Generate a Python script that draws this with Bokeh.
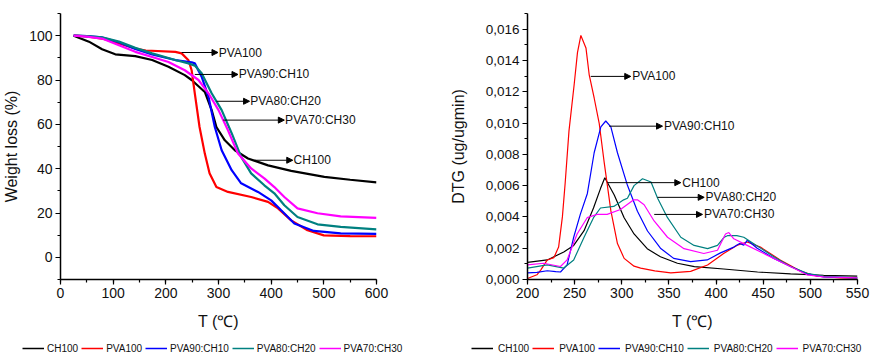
from bokeh.plotting import figure
from bokeh.layouts import row, column
from bokeh.models import (Range1d, SingleIntervalTicker, Legend, LegendItem, Arrow,
                          NormalHead, Label, CustomJSTickFormatter)
from bokeh.embed import file_html
from bokeh.resources import INLINE

FONT = "Liberation Sans"

names = ["CH100", "PVA100", "PVA90:CH10", "PVA80:CH20", "PVA70:CH30"]
colors = ["#000000", "#ff0000", "#0000ff", "#008080", "#ff00ff"]

# ---- TGA (weight loss %) ----
tga_ch100_T = [25, 54, 79, 104, 142, 174, 205, 236, 249, 274, 287, 296, 312, 331, 356, 394, 438, 501, 550, 600]
tga_ch100_W = [100, 97.3, 93.9, 91.6, 90.8, 89, 86, 82.2, 80, 74.6, 66.4, 58.8, 52.8, 48.3, 44.6, 41.5, 39, 36.3, 35, 33.8]

tga_pva100_T = [25, 50, 79, 111, 142, 162, 218, 230, 243, 249, 255, 264, 274, 283, 296, 318, 362, 394, 413, 438, 469, 500, 550, 600]
tga_pva100_W = [100, 99.7, 98.7, 96.5, 94.2, 93.3, 92.7, 92, 88.9, 84.4, 74, 58.8, 46.8, 37.9, 31.7, 29.5, 27.2, 25, 22.1, 16.7, 12.2, 9.9, 9.6, 9.5]

tga_pva90_T = [25, 50, 79, 111, 142, 174, 218, 249, 255, 268, 281, 293, 306, 325, 343, 375, 400, 419, 444, 481, 532, 600]
tga_pva90_W = [100, 99.8, 99.2, 97, 94, 91.5, 89, 88, 87.5, 81.5, 72.4, 58.8, 48.3, 39.3, 33.4, 29.5, 25.7, 21.2, 15.3, 11.9, 10.8, 10.6]

tga_pva80_T = [25, 50, 79, 111, 142, 174, 218, 243, 255, 268, 287, 306, 325, 343, 362, 387, 406, 425, 450, 488, 532, 600]
tga_pva80_W = [100, 99.8, 99.2, 97.3, 94.5, 92, 89, 87.5, 86.5, 83, 74, 66.4, 56, 45.3, 37.9, 32.5, 28.9, 23.5, 18.2, 14.9, 13.7, 12.6]

tga_pva70_T = [25, 50, 79, 111, 142, 174, 205, 236, 262, 281, 300, 318, 337, 362, 387, 406, 425, 450, 488, 532, 600]
tga_pva70_W = [100, 99.6, 98.7, 95.7, 92.7, 90.4, 88.1, 84.4, 80, 74, 66.4, 57.3, 46.8, 40.1, 35.6, 31.7, 27.2, 22.1, 19.9, 18.5, 17.8]

# ---- DTG ----
dtg_ch100_T = [200, 221, 238.5, 249, 260, 270, 277.4, 282, 292, 302.5, 313, 327, 341, 359, 377, 408, 444, 479, 514, 550]
dtg_ch100_Y = [0.0011, 0.00125, 0.00176, 0.00218, 0.00312, 0.00457, 0.00581, 0.0065, 0.0054, 0.00395, 0.00291,
               0.00197, 0.00145, 0.00104, 0.00082, 0.00067, 0.00048, 0.00036, 0.00027, 0.00021]

dtg_pva100_T = [200, 210, 214, 221, 228, 233, 237, 240, 244, 249.5, 253, 256.6, 262, 265.4, 270.7, 276, 281.3, 288.4,
                295.4, 302.5, 313, 320, 335, 352, 373, 391, 408, 422, 433, 447, 468, 490, 507, 532, 550]
dtg_pva100_Y = [0.00006, 0.0003, 0.0006, 0.00125, 0.0014, 0.00207, 0.0040, 0.0062, 0.0095, 0.01246, 0.0145, 0.0156,
                0.0148, 0.0131, 0.0116, 0.0100, 0.0075, 0.0044, 0.0023, 0.00135, 0.00085, 0.00073, 0.00055, 0.00042,
                0.00052, 0.00093, 0.00166, 0.00218, 0.0024, 0.00207, 0.00125, 0.00052, 0.00021, 0.0001, 0.00008]

dtg_pva90_T = [200, 210, 221, 230, 235, 242, 249, 256, 263.5, 270.7, 277.8, 283, 288.4, 295.4, 306, 316.6, 327.3,
               341, 355, 373, 390.6, 404.7, 418.8, 425, 429.4, 433, 436.5, 443.6, 461.3, 479, 496.6, 514.2, 550]
dtg_pva90_Y = [0.00042, 0.00045, 0.00056, 0.0005, 0.00048, 0.00093, 0.0027, 0.00416, 0.0055, 0.0081, 0.00976, 0.01013,
               0.00976, 0.0081, 0.00602, 0.00436, 0.0031, 0.002, 0.00135, 0.00114, 0.00125, 0.0017, 0.00207, 0.0023,
               0.0022, 0.0025, 0.00235, 0.002, 0.00135, 0.00083, 0.00036, 0.00017, 0.0001]

dtg_pva80_T = [200, 221, 238.5, 249, 260, 270, 277.4, 291.5, 302, 306, 313, 322, 331, 338, 348.5, 362.6, 376.7, 391,
               401.5, 408.6, 412, 422, 429.4, 440, 461.3, 479, 496.6, 514, 550]
dtg_pva80_Y = [0.00073, 0.00093, 0.00073, 0.00125, 0.0027, 0.00395, 0.00457, 0.00467, 0.00509, 0.00519, 0.006, 0.00644,
               0.00623, 0.00519, 0.00395, 0.0027, 0.00218, 0.00197, 0.00218, 0.0027, 0.0028, 0.0028, 0.0027, 0.00229,
               0.00145, 0.00083, 0.0004, 0.0002, 0.0001]

dtg_pva70_T = [200, 217, 235, 242, 252.6, 263.3, 273.9, 284.5, 298.6, 312.7, 316.6, 323.7, 334.3, 348.5, 366, 387,
               401.5, 410, 413.5, 418.8, 433, 454, 475.4, 496.6, 514, 550]
dtg_pva70_Y = [0.00093, 0.00104, 0.00083, 0.00125, 0.00291, 0.00395, 0.00416, 0.00416, 0.00447, 0.00509, 0.00509,
               0.00478, 0.00374, 0.0027, 0.00197, 0.00166, 0.00187, 0.00291, 0.003, 0.0026, 0.00218, 0.00156, 0.00093,
               0.0003, 0.00017, 0.0001]

tga_series = [(tga_ch100_T, tga_ch100_W), (tga_pva100_T, tga_pva100_W), (tga_pva90_T, tga_pva90_W),
              (tga_pva80_T, tga_pva80_W), (tga_pva70_T, tga_pva70_W)]
dtg_series = [(dtg_ch100_T, dtg_ch100_Y), (dtg_pva100_T, dtg_pva100_Y), (dtg_pva90_T, dtg_pva90_Y),
              (dtg_pva80_T, dtg_pva80_Y), (dtg_pva70_T, dtg_pva70_Y)]

# annotation arrows: (label, x_start, x_end, y)
tga_notes = [("PVA100", 230, 299, 92.4), ("PVA90:CH10", 255, 337, 82.5), ("PVA80:CH20", 296, 359, 70.4),
             ("PVA70:CH30", 309, 425, 61.9), ("CH100", 368, 441, 43.8)]
dtg_notes = [("PVA100", 267.1, 309.5, 0.01298), ("PVA90:CH10", 286.6, 343.2, 0.0098), ("CH100", 284.8, 362.6, 0.00619),
             ("PVA80:CH20", 337.9, 387.4, 0.00525), ("PVA70:CH30", 334.4, 385.6, 0.00416)]


def style_axes(p, tick_size_x, tick_size_y):
    p.outline_line_color = None
    p.xgrid.visible = False
    p.ygrid.visible = False
    for ax, ts in ((p.xaxis[0], tick_size_x), (p.yaxis[0], tick_size_y)):
        ax.axis_line_width = 1.5
        ax.axis_line_color = "black"
        ax.major_tick_line_color = "black"
        ax.minor_tick_line_color = "black"
        ax.major_tick_line_width = 1.2
        ax.minor_tick_line_width = 1.2
        ax.major_tick_in = 0
        ax.major_tick_out = 5
        ax.minor_tick_in = 0
        ax.minor_tick_out = 3
        ax.major_label_text_font = FONT
        ax.major_label_text_font_size = ts
        ax.major_label_text_color = "#111111"
        ax.axis_label_text_font = FONT
        ax.axis_label_text_font_size = "16px"
        ax.axis_label_text_font_style = "normal"
        ax.axis_label_text_color = "#111111"
        ax.major_label_standoff = 3


def add_notes(p, notes, dx):
    for lab, x0, x1, y in notes:
        p.add_layout(Arrow(end=NormalHead(size=6, fill_color="black", line_color="black", line_width=1),
                           x_start=x0, y_start=y, x_end=x1, y_end=y, line_color="black", line_width=1))
        p.add_layout(Label(x=x1 + dx, y=y, text=lab, text_font=FONT, text_font_size="12px",
                           text_baseline="middle", text_color="#111111"))


# ---- left figure ----
p1 = figure(width=436, height=336, x_range=Range1d(0, 600), y_range=Range1d(-10, 110),
            output_backend="svg", toolbar_location=None,
            min_border_left=58, min_border_right=60, min_border_top=13, min_border_bottom=57)
p1.xaxis.ticker = SingleIntervalTicker(interval=100, num_minor_ticks=2)
p1.yaxis.ticker = SingleIntervalTicker(interval=20, num_minor_ticks=2)
p1.xaxis.axis_label = "T (℃)"
p1.yaxis.axis_label = "Weight loss (%)"
style_axes(p1, "14px", "14px")
p1.yaxis.axis_label_standoff = 6
p1.xaxis.axis_label_standoff = 12
for (t, w), c in zip(tga_series, colors):
    p1.line(t, w, line_color=c, line_width=2.2)
add_notes(p1, tga_notes, 1.5)

# ---- right figure ----
p2 = figure(width=436, height=336, x_range=Range1d(200, 550), y_range=Range1d(0, 0.017),
            output_backend="svg", toolbar_location=None,
            min_border_left=91, min_border_right=15, min_border_top=6, min_border_bottom=56)
p2.xaxis.ticker = SingleIntervalTicker(interval=50, num_minor_ticks=2)
p2.yaxis.ticker = SingleIntervalTicker(interval=0.002, num_minor_ticks=2)
p2.yaxis.formatter = CustomJSTickFormatter(code="return tick.toFixed(3).replace('.', ',');")
p2.xaxis.axis_label = "T (℃)"
p2.yaxis.axis_label = "DTG (ug/ugmin)"
style_axes(p2, "14px", "13.5px")
p2.yaxis.axis_label_standoff = 16
p2.xaxis.axis_label_standoff = 12
for (t, y), c in zip(dtg_series, colors):
    p2.line(t, y, line_color=c, line_width=1.2)
add_notes(p2, dtg_notes, 1.5)

# ---- legend strip (one legend under each chart) ----
p3 = figure(width=872, height=25, x_range=Range1d(0, 1), y_range=Range1d(0, 1),
            output_backend="svg", toolbar_location=None,
            min_border_left=0, min_border_right=0, min_border_top=0, min_border_bottom=0)
p3.axis.visible = False
p3.xgrid.visible = False
p3.ygrid.visible = False
p3.outline_line_color = None
# legend keys: one line per series, parked outside the strip's visible range
legend_renderers = [p3.line([5, 6], [5, 6], line_color=c, line_width=1.5) for c in colors]


def make_legend(loc, standoff):
    items = [LegendItem(label=n, renderers=[r]) for n, r in zip(names, legend_renderers)]
    return Legend(items=items, orientation="horizontal", location=loc, padding=0, margin=0, spacing=3,
                  label_standoff=standoff, glyph_width=22, glyph_height=12, label_height=12,
                  label_text_font=FONT, label_text_font_size="10px", label_text_color="#111111",
                  border_line_color=None, background_fill_alpha=0)


p3.add_layout(make_legend((22, 7), 3))
p3.add_layout(make_legend((471, 7), 5))

layout = column(row(p1, p2), p3)
open("out.html", "w").write(file_html(layout, INLINE))
